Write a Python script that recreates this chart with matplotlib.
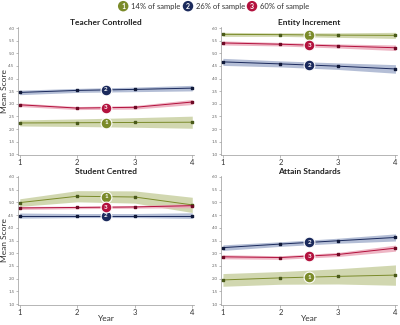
import matplotlib

matplotlib.use("Agg")
import matplotlib.pyplot as plt
import numpy as np

plt.rcParams["font.family"] = ["Lato", "DejaVu Sans"]

years = [1, 2, 3, 4]
panels = ["Teacher Controlled", "Entity Increment", "Student Centred", "Attain Standards"]
groups = ["1", "2", "3"]
group_labels = ["14% of sample", "26% of sample", "60% of sample"]

# class means per panel: [class1 (green), class2 (navy), class3 (crimson)]
teacher_means = [[2.24, 2.25, 2.26, 2.27], [3.45, 3.53, 3.57, 3.62], [2.96, 2.83, 2.86, 3.07]]
teacher_half = [[0.12, 0.15, 0.19, 0.24], [0.09, 0.08, 0.09, 0.11], [0.07, 0.06, 0.07, 0.1]]
entity_means = [[5.75, 5.74, 5.72, 5.71], [4.66, 4.58, 4.49, 4.38], [5.41, 5.36, 5.29, 5.22]]
entity_half = [[0.08, 0.07, 0.09, 0.12], [0.14, 0.12, 0.13, 0.17], [0.08, 0.07, 0.08, 0.11]]
student_means = [[4.99, 5.24, 5.21, 4.9], [4.48, 4.48, 4.48, 4.48], [4.78, 4.8, 4.82, 4.87]]
student_half = [[0.15, 0.22, 0.24, 0.3], [0.1, 0.08, 0.08, 0.11], [0.06, 0.05, 0.05, 0.08]]
attain_means = [[1.95, 2.03, 2.09, 2.14], [3.22, 3.36, 3.49, 3.62], [2.86, 2.83, 2.95, 3.2]]
attain_half = [[0.25, 0.25, 0.3, 0.4], [0.11, 0.09, 0.1, 0.14], [0.08, 0.07, 0.08, 0.12]]

all_means = [teacher_means, entity_means, student_means, attain_means]
all_half = [teacher_half, entity_half, student_half, attain_half]

line_col = ["#7b8b2a", "#1b2a5c", "#b3123e"]
band_col = ["#c9d1a3", "#a7b3cf", "#eba9bb"]
dot_col = ["#4a5a1a", "#111a3a", "#6e0a25"]

fig = plt.figure(figsize=(4.0, 3.25), dpi=100)
boxes = [
    [0.045, 0.523, 0.44, 0.393],
    [0.553, 0.523, 0.44, 0.393],
    [0.045, 0.062, 0.44, 0.396],
    [0.553, 0.062, 0.44, 0.396],
]

for k, (title, means, halfs) in enumerate(zip(panels, all_means, all_half)):
    ax = fig.add_axes(boxes[k])
    for g in range(3):
        m = np.array(means[g])
        h = np.array(halfs[g])
        ax.fill_between(years, m - h, m + h, color=band_col[g], alpha=0.85, lw=0, zorder=1)
        ax.plot(years, m, color=line_col[g], lw=0.7, zorder=2)
        ax.scatter(years, m, s=4, color=dot_col[g], marker="s", zorder=3)
        y_lab = np.interp(2.5, years, m)
        ax.scatter([2.5], [y_lab], s=60, color=line_col[g], edgecolor="white", lw=0.8, zorder=4)
        ax.text(2.5, y_lab, groups[g], color="white", fontsize=4.5, fontweight="bold",
                ha="center", va="center", zorder=5)
    ax.set_xlim(0.97, 4.03)
    ax.set_ylim(0.97, 6.03)
    ax.set_yticks(np.arange(1.0, 6.01, 0.5))
    ax.set_yticklabels([f"{v:.1f}" for v in np.arange(1.0, 6.01, 0.5)], fontsize=3.2)
    ax.set_xticks(years)
    ax.set_xticklabels([str(y) for y in years], fontsize=5.5)
    ax.tick_params(axis="y", length=1.5, width=0.4, pad=1, colors="#888888", labelcolor="#666666")
    ax.tick_params(axis="x", length=2, width=0.4, pad=1, colors="#888888", labelcolor="#333333")
    for s in ["top", "right"]:
        ax.spines[s].set_visible(False)
    for s in ["left", "bottom"]:
        ax.spines[s].set_color("#999999")
        ax.spines[s].set_linewidth(0.5)
    ax.set_title(title, fontsize=6, fontweight="bold", pad=1.5, color="#222222")
    if k % 2 == 0:
        ax.set_ylabel("Mean Score", fontsize=6, labelpad=0, color="#333333")
    if k >= 2:
        ax.set_xlabel("Year", fontsize=6, labelpad=-0.5, color="#333333")

# legend strip across the top
leg_x = [0.308, 0.47, 0.63]
for g in range(3):
    fig.text(leg_x[g], 0.981, groups[g], color="white", fontsize=5, fontweight="bold",
             ha="center", va="center", zorder=5,
             bbox=dict(boxstyle="circle,pad=0.25", fc=line_col[g], ec="none"))
    fig.text(leg_x[g] + 0.02, 0.981, group_labels[g], fontsize=5.5, color="#333333",
             ha="left", va="center")

fig.savefig("out.png", dpi=100)
